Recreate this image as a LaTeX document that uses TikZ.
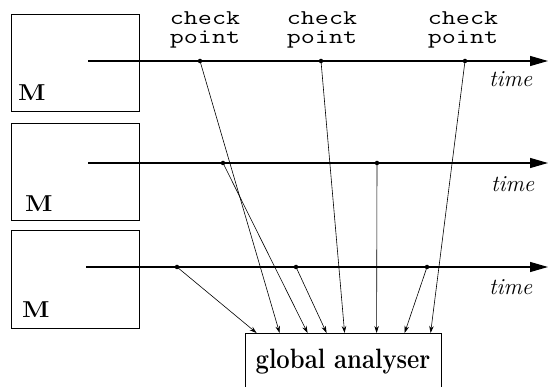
\documentclass[tikz,border=0pt]{standalone}
\usepackage{fontspec}
\usepackage{graphicx}
\usetikzlibrary{arrows.meta}
\newcommand{\wide}[1]{\scalebox{1.3}[1]{#1}}
\begin{document}
\begin{tikzpicture}[x=1pt,y=-1pt,
  proc/.style={draw,line width=0.8pt,minimum width=128pt,minimum height=97pt,inner sep=0pt},
  timeline/.style={line width=1.1pt,-{Triangle[length=18pt,width=10pt]}},
  dot/.style={circle,fill,inner sep=0pt,minimum size=4.5pt},
  msg/.style={line width=0.6pt,-{Stealth[length=7pt,width=4.5pt]}},
  cplabel/.style={align=center,font=\fontsize{21}{19}\selectfont\ttfamily,anchor=base,inner sep=0pt},
  timelabel/.style={font=\fontsize{23}{24}\selectfont\itshape,anchor=base west,inner sep=0pt},
  mlabel/.style={font=\fontsize{23}{24}\selectfont\bfseries,anchor=base west,inner sep=0pt},
  analyser/.style={draw,line width=0.8pt,minimum width=196pt,inner sep=0pt,
    text height=35pt,text depth=21pt,
    font=\fontsize{28}{30}\selectfont\bfseries,anchor=north},
]
\path[clip] (0,0) rectangle (549,387);

% processes
\node[proc] (m1) at (75,62.5) {};
\node[proc] (m2) at (75,171.5) {};
\node[proc,minimum height=98pt] (m3) at (75,279) {};
\node[mlabel] (ml1) at (18,101) {\scalebox{1.12}[1]{M}};
\node[mlabel] (ml2) at (25,212) {\scalebox{1.12}[1]{M}};
\node[mlabel] (ml3) at (22,318) {\scalebox{1.12}[1]{M}};

% time lines
\coordinate (s1) at (88,61);  \coordinate (e1) at (548,61);
\coordinate (s2) at (88,163); \coordinate (e2) at (548,163);
\coordinate (s3) at (86,267); \coordinate (e3) at (548,267);
\draw[timeline] (s1) -- (e1);
\draw[timeline] (s2) -- (e2);
\draw[timeline] (s3) -- (e3);
\node[timelabel] (t1) at (489,87) {time};
\node[timelabel] (t2) at (491,192) {time};
\node[timelabel] (t3) at (489,295) {time};

% check points
\node[dot] (d11) at (200,61) {};
\node[dot] (d12) at (321,61) {};
\node[dot] (d13) at (465,61) {};
\node[dot] (d21) at (223,163) {};
\node[dot] (d22) at (377,163) {};
\node[dot] (d31) at (177,267) {};
\node[dot] (d32) at (296,267) {};
\node[dot] (d33) at (427,267) {};
\node[cplabel] (c1) at (205,44) {\wide{check}\\\wide{point}};
\node[cplabel] (c2) at (322,44) {\wide{check}\\\wide{point}};
\node[cplabel] (c3) at (463,44) {\wide{check}\\\wide{point}};

% analyser
\node[analyser] (ga) at (343,333) {\scalebox{0.85}[1]{global analyser}};

% messages to the analyser
\draw[msg] (d31.center) -- ([xshift=12pt]ga.north west);
\draw[msg] (d11.center) -- ([xshift=35pt]ga.north west);
\draw[msg] (d21.center) -- ([xshift=63pt]ga.north west);
\draw[msg] (d32.center) -- ([xshift=82pt]ga.north west);
\draw[msg] (d12.center) -- ([xshift=100pt]ga.north west);
\draw[msg] (d22.center) -- ([xshift=132pt]ga.north west);
\draw[msg] (d33.center) -- ([xshift=160pt]ga.north west);
\draw[msg] (d13.center) -- ([xshift=186pt]ga.north west);
\end{tikzpicture}
\end{document}
